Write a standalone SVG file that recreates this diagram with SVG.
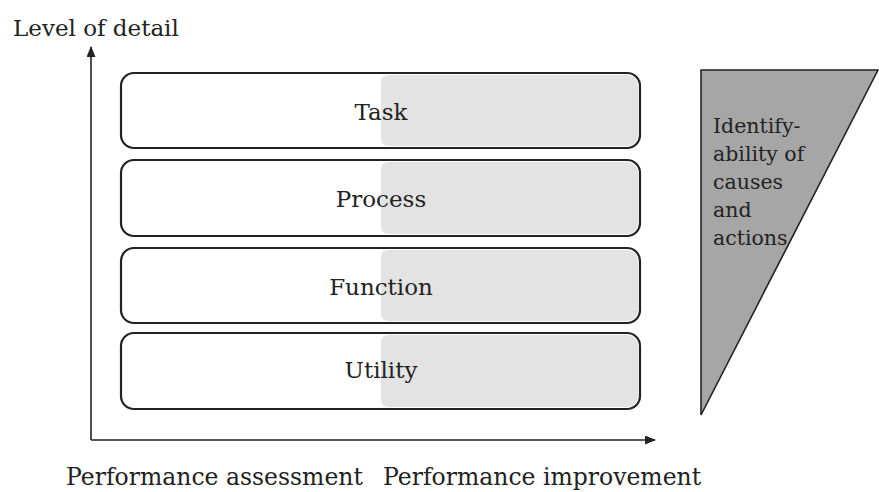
<svg xmlns="http://www.w3.org/2000/svg" width="879" height="492" viewBox="0 0 879 492">
<style>
text{font-family:"DejaVu Serif","Liberation Serif",serif;fill:#222;font-size:23px}
.box{fill:#fff;stroke:#222;stroke-width:2.2}
.shade{fill:#e3e3e3}
.lbl{text-anchor:middle}
.tri{font-size:20.5px}
.bot{font-size:23.5px}
.ax{stroke:#222;stroke-width:1.6;fill:none}
</style>
<defs>
<marker id="ah" markerWidth="11" markerHeight="9" refX="10" refY="4.5" orient="auto" markerUnits="userSpaceOnUse">
<path d="M0,0 L11,4.5 L0,9 Z" fill="#222"/>
</marker>
</defs>
<g id="connectors">
<line class="ax" x1="91" y1="440" x2="91" y2="47" marker-end="url(#ah)"/>
<line class="ax" x1="91" y1="440" x2="655" y2="440" marker-end="url(#ah)"/>
</g>
<text x="13" y="36">Level of detail</text>
<g id="task">
<rect class="box" x="121" y="73" width="519" height="75" rx="13"/>
<path class="shade" d="M389,75 H626 Q638,75 638,87 V134 Q638,146 626,146 H389 Q381,146 381,138 V83 Q381,75 389,75 Z"/>
<text class="lbl" x="381" y="120">Task</text>
</g>
<g id="process">
<rect class="box" x="121" y="160" width="519" height="76" rx="13"/>
<path class="shade" d="M389,162 H626 Q638,162 638,174 V222 Q638,234 626,234 H389 Q381,234 381,226 V170 Q381,162 389,162 Z"/>
<text class="lbl" x="381" y="207">Process</text>
</g>
<g id="function">
<rect class="box" x="121" y="248" width="519" height="75" rx="13"/>
<path class="shade" d="M389,250 H626 Q638,250 638,262 V309 Q638,321 626,321 H389 Q381,321 381,313 V258 Q381,250 389,250 Z"/>
<text class="lbl" x="381" y="295">Function</text>
</g>
<g id="utility">
<rect class="box" x="121" y="333" width="519" height="76" rx="13"/>
<path class="shade" d="M389,335 H626 Q638,335 638,347 V395 Q638,407 626,407 H389 Q381,407 381,399 V343 Q381,335 389,335 Z"/>
<text class="lbl" x="381" y="378">Utility</text>
</g>
<g id="identifiability">
<polygon points="701,70 878,70 701,415" fill="#a6a6a6" stroke="#222" stroke-width="1.6"/>
<text class="tri" x="713" y="133">Identify-</text>
<text class="tri" x="713" y="161">ability of</text>
<text class="tri" x="713" y="189">causes</text>
<text class="tri" x="713" y="217">and</text>
<text class="tri" x="713" y="245">actions</text>
</g>
<text class="bot" x="66" y="485">Performance assessment</text>
<text class="bot" x="383" y="485">Performance improvement</text>
</svg>
